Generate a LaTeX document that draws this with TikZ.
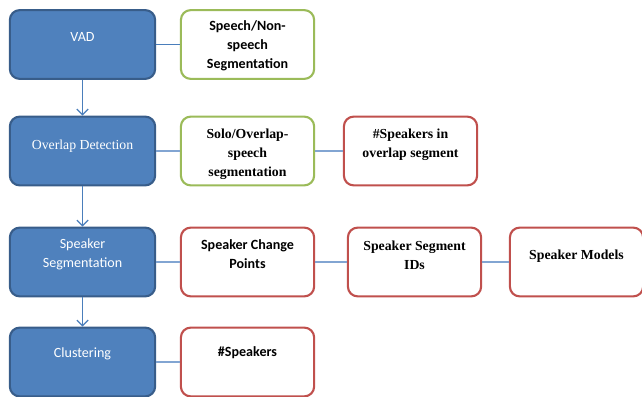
\documentclass[tikz,border=0pt]{standalone}
\usepackage{fontspec}
\setmainfont{Liberation Serif}
\newfontfamily\calibri{Carlito}
\usetikzlibrary{
  arrows.meta,
  positioning,
  calc
}
\definecolor{stageblue}{RGB}{79,129,189}
\definecolor{stageline}{RGB}{56,93,138}
\definecolor{outgreen}{RGB}{155,187,89}
\definecolor{outred}{RGB}{192,80,77}
\definecolor{flowblue}{RGB}{74,126,187}
\definecolor{linkblue}{RGB}{130,165,210}

\begin{document}
\begin{tikzpicture}[
  x=0.025cm, y=-0.025cm,
  stage/.style={draw=stageline, fill=stageblue, line width=1.5pt,
    rounded corners=7pt, minimum width=3.63cm, minimum height=1.72cm},
  outbox/.style={fill=white, line width=1.5pt, rounded corners=7pt,
    minimum width=3.33cm, minimum height=1.72cm},
  greenbox/.style={outbox, draw=outgreen},
  redbox/.style={outbox, draw=outred},
  stage sans/.style={text=white, align=center, font=\calibri\fontsize{10}{13.5}\selectfont},
  stage serif/.style={text=white, align=center, font=\rmfamily\fontsize{9.8}{13.5}\selectfont},
  out sans/.style={align=center, font=\calibri\bfseries\fontsize{10}{13.5}\selectfont},
  out serif/.style={align=center, font=\rmfamily\bfseries\fontsize{9.8}{13.5}\selectfont},
  flow/.style={flowblue, line width=0.8pt, -{Straight Barb[length=4pt, width=8pt]}},
  link/.style={linkblue, line width=0.9pt},
]
\useasboundingbox (0,0) rectangle (642,396);

% Pipeline stages (left column)
\node[stage] (vad)    at (82.5, 44.5) {};
\node[stage] (ovl)    at (82.5, 151)  {};
\node[stage] (spkseg) at (82.5, 262)  {};
\node[stage] (clus)   at (82.5, 362)  {};

% Stage outputs
\node[greenbox] (speech) at (247.5, 44.5) {};
\node[greenbox] (solo)   at (247.5, 151)  {};
\node[redbox]   (nspkov) at (410.5, 151)  {};
\node[redbox]   (chg)    at (247.5, 262)  {};
\node[redbox]   (segid)  at (414.5, 262)  {};
\node[redbox]   (models) at (576.5, 262)  {};
\node[redbox]   (nspk)   at (247.5, 362)  {};

% Texts
\node[stage sans]  (vadtxt)    at ([yshift=5.3pt]vad.center)    {VAD};
\node[stage serif] (ovltxt)    at ([yshift=3.5pt]ovl.center)    {Overlap Detection};
\node[stage sans]  (spksegtxt) at ([yshift=5.3pt]spkseg.center) {Speaker\\Segmentation};
\node[stage sans]  (clustxt)   at ([yshift=5.7pt]clus.center)   {Clustering};

\node[out sans]  (speechtxt) at ([yshift=-1pt]speech.center)  {Speech/Non-\\speech\\Segmentation};
\node[out serif] (solotxt)   at ([yshift=-2pt]solo.center)    {Solo/Overlap-\\speech\\segmentation};
\node[out serif] (nspkovtxt) at ([yshift=4.6pt]nspkov.center) {\#Speakers in\\overlap segment};
\node[out sans]  (chgtxt)    at ([yshift=5.3pt]chg.center)    {Speaker Change\\Points};
\node[out serif] (segidtxt)  at ([yshift=5pt]segid.center)    {Speaker Segment\\IDs};
\node[out serif] (modelstxt) at ([yshift=4.3pt]models.center) {Speaker Models};
\node[out sans]  (nspktxt)   at ([yshift=6.4pt]nspk.center)   {\#Speakers};

% Flow between stages
\draw[flow] (vad) -- (ovl);
\draw[flow] (ovl) -- (spkseg);
\draw[flow] (spkseg) -- (clus);

% Links to outputs
\draw[link, flowblue] (vad) -- (speech);
\draw[link] (ovl) -- (solo);
\draw[link] (solo) -- (nspkov);
\draw[link] (spkseg) -- (chg);
\draw[link] (chg) -- (segid);
\draw[link] (segid) -- (models);
\draw[link] (clus) -- (nspk);

\end{tikzpicture}
\end{document}
